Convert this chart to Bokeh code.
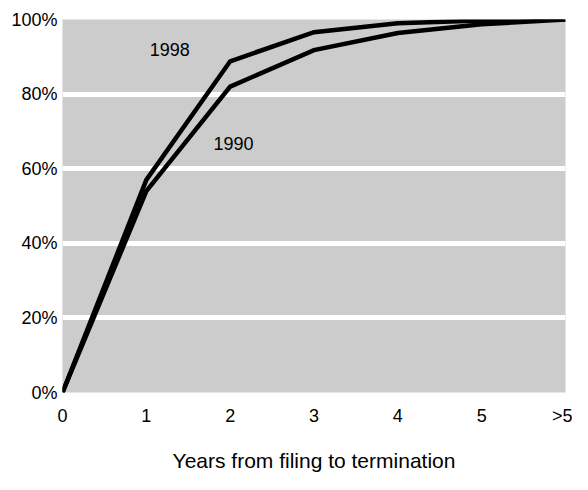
from bokeh.plotting import figure
from bokeh.models import FixedTicker, NumeralTickFormatter, Label
from bokeh.embed import file_html
from bokeh.resources import INLINE

categories = ["0", "1", "2", "3", "4", "5", ">5"]
series_1998 = [0.0, 0.57, 0.888, 0.966, 0.99, 0.997, 1.0]
series_1990 = [0.0, 0.54, 0.82, 0.918, 0.964, 0.987, 1.0]
y_ticks = [0.0, 0.2, 0.4, 0.6, 0.8, 1.0]
x_title = "Years from filing to termination"

xs = list(range(len(categories)))
FONT = "Liberation Sans"

p = figure(width=572, height=474, output_backend="svg", toolbar_location=None,
           x_range=(0, len(categories) - 1), y_range=(0, 1),
           min_border_left=62, min_border_right=7, min_border_top=19, min_border_bottom=78)
p.background_fill_color = "#cccccc"
p.border_fill_color = "white"
p.outline_line_color = None

p.line(xs, series_1998, line_color="black", line_width=4.5, line_join="miter")
p.line(xs, series_1990, line_color="black", line_width=4.5, line_join="miter")

p.xgrid.grid_line_color = None
p.ygrid.grid_line_color = "white"
p.ygrid.grid_line_width = 5
p.ygrid.grid_line_alpha = 1.0

p.yaxis.ticker = FixedTicker(ticks=y_ticks)
p.yaxis.formatter = NumeralTickFormatter(format="0%")
p.xaxis.ticker = FixedTicker(ticks=xs)
p.xaxis.major_label_overrides = {i: c for i, c in zip(xs, categories)}

for ax in (p.xaxis[0], p.yaxis[0]):
    ax.axis_line_color = None
    ax.major_tick_line_color = None
    ax.minor_tick_line_color = None
    ax.major_tick_out = 0
    ax.major_tick_in = 0
    ax.major_label_text_font = FONT
    ax.major_label_text_font_size = "18px"
    ax.major_label_text_color = "black"

p.yaxis.major_label_standoff = 5
p.xaxis.major_label_standoff = 13
p.xaxis.axis_label = x_title
p.xaxis.axis_label_text_font = FONT
p.xaxis.axis_label_text_font_size = "21px"
p.xaxis.axis_label_text_font_style = "normal"
p.xaxis.axis_label_text_color = "black"
p.xaxis.axis_label_standoff = 20

p.add_layout(Label(x=1.28, y=0.919, text="1998", text_align="center", text_baseline="middle",
                   text_font=FONT, text_font_size="18px", text_color="black"))
p.add_layout(Label(x=2.04, y=0.668, text="1990", text_align="center", text_baseline="middle",
                   text_font=FONT, text_font_size="18px", text_color="black"))

open("out.html", "w").write(file_html(p, INLINE))
